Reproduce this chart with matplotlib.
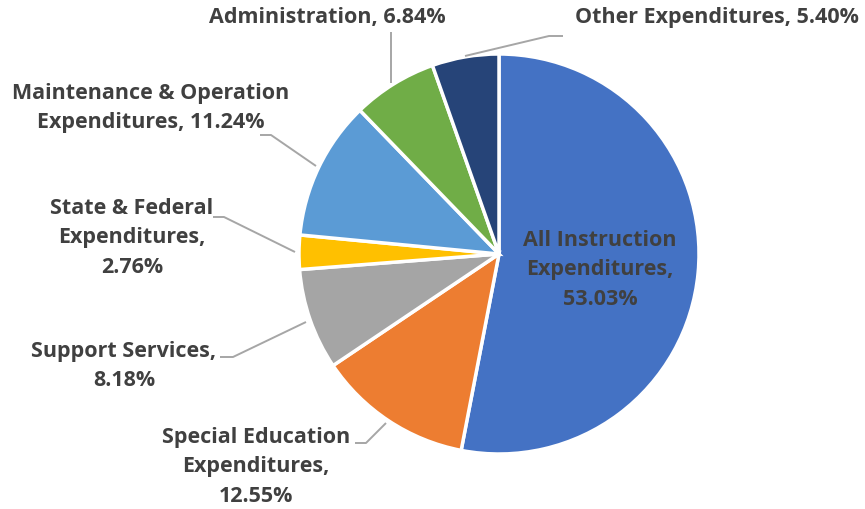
import matplotlib
matplotlib.use("Agg")
import matplotlib.pyplot as plt

categories = ["All Instruction\nExpenditures,", "Special Education\nExpenditures,",
              "Support Services,", "State & Federal\nExpenditures,",
              "Maintenance & Operation\nExpenditures,", "Administration,",
              "Other Expenditures,"]
values = [53.03, 12.55, 8.18, 2.76, 11.24, 6.84, 5.40]
colors = ["#4472C4", "#ED7D31", "#A5A5A5", "#FFC000", "#5B9BD5", "#70AD47", "#264478"]

W, H = 865, 510
fig = plt.figure(figsize=(W / 100, H / 100), dpi=100)
ax = fig.add_axes([0, 0, 1, 1])
ax.set_xlim(0, W)
ax.set_ylim(0, H)
ax.set_aspect("equal")
ax.axis("off")

ax.pie(values, colors=colors, startangle=90, counterclock=False,
       center=(499, 255), radius=200,
       wedgeprops=dict(edgecolor="white", linewidth=2.5))
ax.set_xlim(0, W)
ax.set_ylim(0, H)

def Y(py):
    return H - py

# label text: (center x px, center y px), separator between name and value
label_pos = [
    (600, 270, "\n"),
    (256, 467, "\n"),
    (124, 366, "\n"),
    (132, 238, "\n"),
    (151, 108, " "),
    (327, 18, " "),
    (717, 18, " "),
]
leaders = [
    None,
    [(355, 444), (366, 444), (386, 424)],
    [(220, 358), (233, 358), (306, 323)],
    [(213, 218), (224, 218), (295, 253)],
    [(260, 136), (271, 136), (316, 167)],
    [(391, 33), (391, 84)],
    [(563, 37), (549, 37), (465, 57)],
]

font = dict(family=["Open Sans", "DejaVu Sans"], fontweight="bold", color="#404040", fontsize=15.5)
for cat, v, (cx, cy, sep), ld in zip(categories, values, label_pos, leaders):
    ax.text(cx, Y(cy), f"{cat}{sep}{v:.2f}%", ha="center", va="center",
            linespacing=1.55, **font)
    if ld:
        xs = [p[0] for p in ld]
        ys = [Y(p[1]) for p in ld]
        ax.plot(xs, ys, color="#A6A6A6", linewidth=1.4, solid_capstyle="butt")

fig.savefig("out.png", dpi=100, facecolor="white")
